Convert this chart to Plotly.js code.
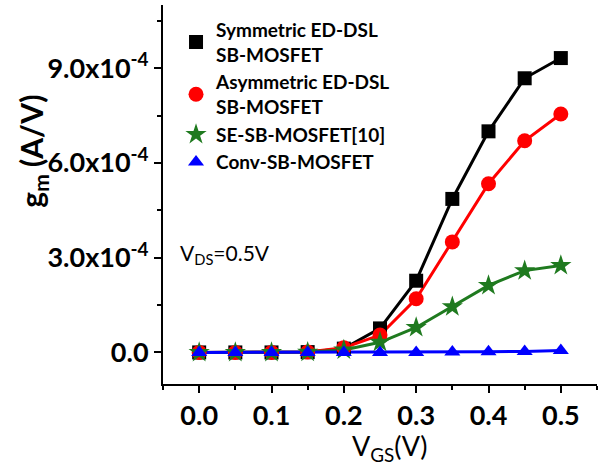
<!DOCTYPE html>
<html><head><meta charset="utf-8">
<script src="https://cdn.plot.ly/plotly-3.0.1.min.js"></script>
<style>html,body{margin:0;padding:0;background:#fff}#plot{width:603px;height:468px}</style>
</head><body><div id="plot"></div>
<script>
const vgs = [0.0, 0.05, 0.1, 0.15, 0.2, 0.25, 0.3, 0.35, 0.4, 0.45, 0.5];
const gmSym  = [0, 0, 0, 0.01e-4, 0.12e-4, 0.76e-4, 2.27e-4, 4.86e-4, 7.0e-4, 8.68e-4, 9.32e-4];
const gmAsym = [0, 0, 0, 0.01e-4, 0.15e-4, 0.55e-4, 1.7e-4, 3.5e-4, 5.34e-4, 6.7e-4, 7.55e-4];
const gmSE   = [0, 0, 0, 0.01e-4, 0.08e-4, 0.32e-4, 0.79e-4, 1.45e-4, 2.12e-4, 2.59e-4, 2.75e-4];
const gmConv = [0, 0, 0, 0, 0, 0, 0, 0.01e-4, 0.02e-4, 0.03e-4, 0.06e-4];
const names = ["Symmetric ED-DSL<br>SB-MOSFET", "Asymmetric ED-DSL<br>SB-MOSFET", "SE-SB-MOSFET[10]", "Conv-SB-MOSFET"];
const yTickVals = [0, 3e-4, 6e-4, 9e-4];
const yTickText = ["0.0", "3.0x10<sup>-4</sup>", "6.0x10<sup>-4</sup>", "9.0x10<sup>-4</sup>"];

const series = [
  {y: gmSym,  color: "#000000", symbol: "square", size: 14},
  {y: gmAsym, color: "#ff0000", symbol: "circle", size: 15},
  {y: gmSE,   color: "#1f7a1f", symbol: "star", size: 16},
  {y: gmConv, color: "#0000ff", symbol: "triangle-up", size: 14}
];
const F = "Lato, 'Open Sans', sans-serif";
const traces = [];
series.forEach((s, i) => {
  traces.push({x: vgs, y: s.y, mode: "lines", line: {color: s.color, width: 3}, showlegend: false, hoverinfo: "skip"});
});
series.forEach((s, i) => {
  traces.push({x: vgs, y: s.y, mode: "markers", name: names[i],
    marker: {color: s.color, symbol: s.symbol, size: s.size}});
});
const layout = {
  width: 603, height: 468,
  margin: {l: 163, r: 6, t: 5, b: 84},
  paper_bgcolor: "#fff", plot_bgcolor: "#fff",
  font: {family: F, color: "#000"},
  showlegend: true,
  legend: {x: 0.03, y: 0.985, xanchor: "left", yanchor: "top", bgcolor: "rgba(0,0,0,0)",
    font: {family: F, size: 19, weight: "bold", color: "#000"}, tracegroupgap: 0},
  xaxis: {range: [-0.05, 0.55], tickmode: "linear", tick0: 0, dtick: 0.1, tickformat: ".1f",
    showgrid: false, zeroline: false, showline: true, linewidth: 2, linecolor: "#000",
    ticks: "outside", ticklen: 7, tickwidth: 2, tickcolor: "#000",
    minor: {tickmode: "linear", tick0: 0, dtick: 0.05, ticks: "outside", ticklen: 4, tickwidth: 2, tickcolor: "#000"},
    tickfont: {family: F, size: 27, weight: "bold"}},
  yaxis: {range: [-1.0e-4, 11.0e-4], tickmode: "array", tickvals: yTickVals, ticktext: yTickText,
    showgrid: false, zeroline: false, showline: true, linewidth: 2, linecolor: "#000",
    ticks: "outside", ticklen: 7, tickwidth: 2, tickcolor: "#000",
    minor: {tickmode: "linear", tick0: 0, dtick: 1.5e-4, ticks: "outside", ticklen: 4, tickwidth: 2, tickcolor: "#000"},
    tickfont: {family: F, size: 27, weight: "bold"}},
  annotations: [
    {xref: "paper", yref: "paper", x: 0.035, y: 0.343, xanchor: "left", yanchor: "middle",
      text: "V<sub>DS</sub>=0.5V", showarrow: false, font: {family: F, size: 21, color: "#000"}},
    {xref: "paper", yref: "paper", x: 0.523, y: -0.168, xanchor: "center", yanchor: "middle",
      text: "V<sub>GS</sub>(V)", showarrow: false, font: {family: F, size: 27, color: "#000"}},
    {xref: "paper", yref: "paper", x: -0.3, y: 0.615, xanchor: "center", yanchor: "middle", textangle: -90,
      text: "g<sub>m</sub> (A/V)", showarrow: false, font: {family: F, size: 30, weight: "bold", color: "#000"}}
  ]
};
Plotly.newPlot("plot", traces, layout, {displayModeBar: false, staticPlot: true});
</script></body></html>
